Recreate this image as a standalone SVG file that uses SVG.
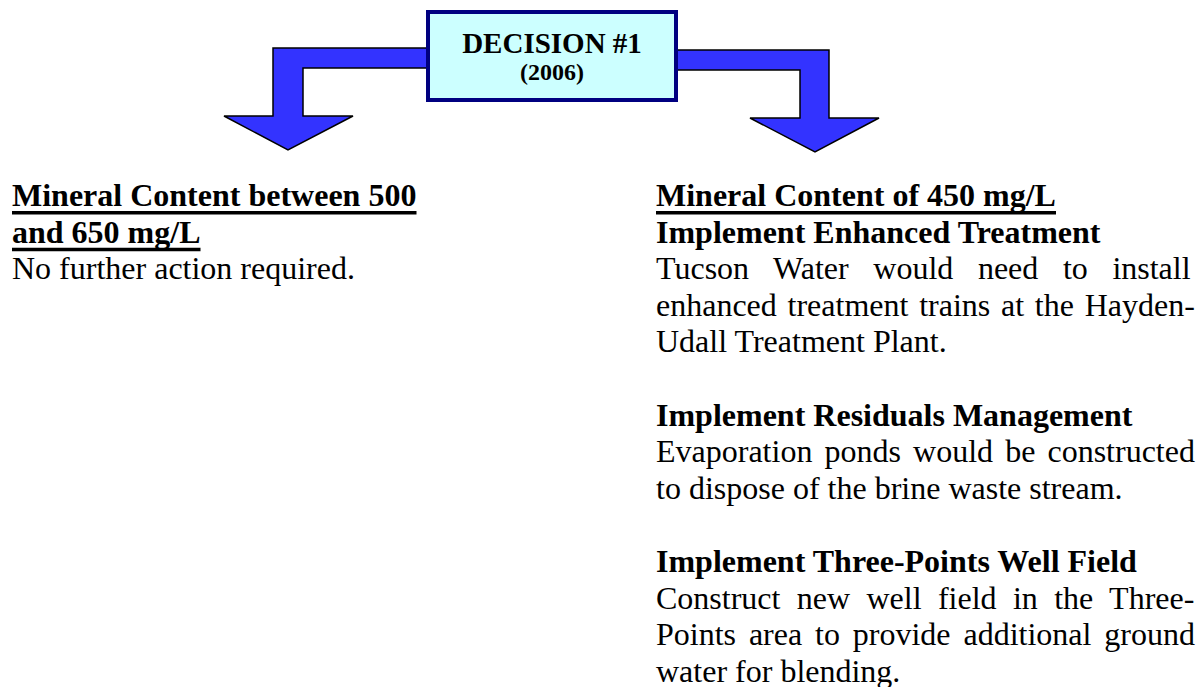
<svg xmlns="http://www.w3.org/2000/svg" width="1199" height="687" viewBox="0 0 1199 687">
<style>
.arrow{fill:#3333FF;stroke:#000;stroke-width:1.5;stroke-linejoin:miter}
.t{font-family:"Liberation Serif","Times New Roman",serif;font-size:32px;fill:#000}
.b{font-weight:bold}
.ul{stroke:#000;stroke-width:3.5}
.box{fill:#CCFFFF;stroke:#000080;stroke-width:4}
.bt{font-family:"Liberation Serif","Times New Roman",serif;font-weight:bold;fill:#000;text-anchor:middle}
</style>
<rect width="1199" height="687" fill="#fff"/>
<g id="connectors">
<polygon class="arrow" points="430,48 273,48 273,116 224,116 288,150 353,116 303,116 303,68 430,68"/>
<polygon class="arrow" points="674,50 829,50 829,118 879,118 815,152 750,118 800,118 800,70 674,70"/>
</g>
<g id="decision1">
<rect class="box" x="428" y="12" width="248" height="88"/>
<text class="bt" x="552" y="52.5" font-size="29">DECISION #1</text>
<text class="bt" x="552" y="80" font-size="24">(2006)</text>
</g>
<g id="option-left">
<text class="t b" x="12" y="206">Mineral Content between 500</text>
<text class="t b" x="12" y="243">and 650 mg/L</text>
<line class="ul" x1="12" y1="212.8" x2="416.5" y2="212.8"/>
<line class="ul" x1="12" y1="249.5" x2="200.5" y2="249.5"/>
<text class="t" x="12" y="279">No further action required.</text>
</g>
<g id="option-right">
<text class="t b" x="656" y="206">Mineral Content of 450 mg/L</text>
<line class="ul" x1="656" y1="212.8" x2="1056" y2="212.8"/>
<text class="t b" x="656" y="242.6">Implement Enhanced Treatment</text>
<text class="t" x="656" y="279.2" word-spacing="16.6">Tucson Water would need to install</text>
<text class="t" x="656" y="315.8" word-spacing="2.76">enhanced treatment trains at the Hayden-</text>
<text class="t" x="656" y="352.4">Udall Treatment Plant.</text>
<text class="t b" x="656" y="425.6">Implement Residuals Management</text>
<text class="t" x="656" y="462.2" word-spacing="4.1">Evaporation ponds would be constructed</text>
<text class="t" x="656" y="498.8">to dispose of the brine waste stream.</text>
<text class="t b" x="656" y="572">Implement Three-Points Well Field</text>
<text class="t" x="656" y="608.6" word-spacing="8.37">Construct new well field in the Three-</text>
<text class="t" x="656" y="645.2" word-spacing="4.88">Points area to provide additional ground</text>
<text class="t" x="656" y="681.8">water for blending.</text>
</g>
</svg>
